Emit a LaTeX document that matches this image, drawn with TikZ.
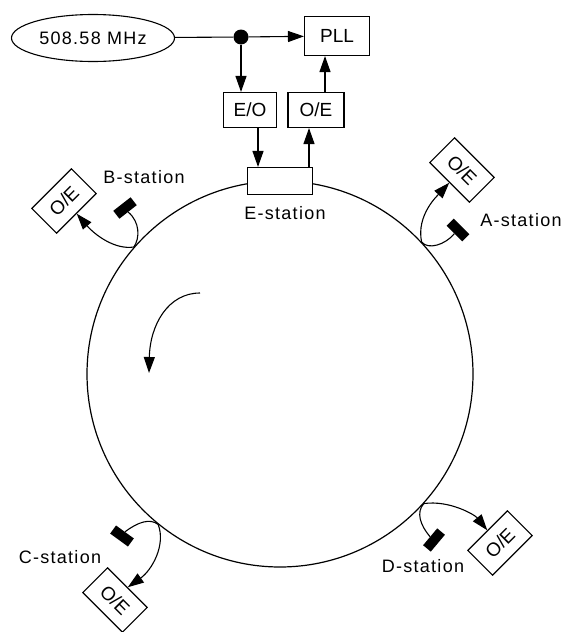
\documentclass[tikz,border=0pt]{standalone}
\usepackage{fontspec}
\newfontfamily\figfont[LetterSpace=7]{Liberation Sans}
\newfontfamily\boxfont{Liberation Sans}
\usetikzlibrary{arrows.meta,shapes.geometric}
\tikzset{
  unit/.style   = {draw, line width=1.1pt, fill=white, inner sep=0pt,
                   minimum width=56pt, minimum height=35pt,
                   font=\boxfont\fontsize{19}{22}\selectfont},
  pickup/.style = {fill=black, inner sep=0pt, minimum width=22pt, minimum height=10pt},
  tag/.style    = {font=\figfont\fontsize{18}{21}\selectfont, inner sep=0pt},
  sig/.style    = {line width=1.1pt, -{Triangle[length=16pt,width=11pt]}},
  link/.style   = {line width=1.1pt},
}

\begin{document}
\begin{tikzpicture}[x=1pt, y=1pt]
\useasboundingbox (0,0) rectangle (573,-632);

% timing chain
\node[tag, draw, ellipse, line width=1.1pt, minimum width=163pt, minimum height=47pt] (osc) at (93,-38) {508.58 MHz};
\node[unit, minimum width=65pt, minimum height=39pt] (pll) at (337,-36) {PLL};
\node[unit, minimum width=53pt] (eo) at (250,-110) {E/O};
\node[unit] (oe) at (316,-110) {O/E};
\node[circle, fill=black, inner sep=0pt, minimum size=15pt] (split) at (241,-37) {};

% ring and E-station
\node[draw, circle, line width=1.2pt, minimum size=386pt, inner sep=0pt] (ring) at (280,-374) {};
\node[unit, minimum width=65pt, minimum height=27pt] (estn) at (280,-181) {};
\node[tag] (lblE) at (285,-213) {E-station};

\draw[link] (osc) -- (split);
\draw[sig] (split) -- (pll);
\draw[sig] (split) -- (split |- eo.north);
\draw[sig] ([xshift=8pt]eo.south) -- ([xshift=8pt]eo.south |- estn.north);
\draw[sig] ([xshift=-7pt]oe.south |- estn.north) -- ([xshift=-7pt]oe.south);
\draw[sig] ([xshift=9pt]oe.north) -- ([xshift=9pt]oe.north |- pll.south);

% A-station
\coordinate (ctA) at (ring.43);
\node[pickup, rotate=-45] (pickA) at (458,-230) {};
\node[unit, rotate=-45] (oeA) at (462,-170) {O/E};
\node[tag] (lblA) at (521,-220) {A-station};
\draw[link] (ctA) .. controls (428,-250) and (445,-245) .. (pickA.south);
\draw[sig] (ctA) .. controls (416,-215) and (438,-195) .. (oeA.south);

% B-station
\coordinate (ctB) at (ring.139);
\node[pickup, rotate=38] (pickB) at (125,-208) {};
\node[unit, rotate=45] (oeB) at (64,-201) {O/E};
\node[tag] (lblB) at (144,-177) {B-station};
\draw[link] (ctB) .. controls (140,-238) and (140,-222) .. (pickB.south);
\draw[sig] (ctB) .. controls (115,-250) and (95,-235) .. (oeB.south);

% C-station
\coordinate (ctC) at (ring.231);
\node[pickup, rotate=-36] (pickC) at (122,-536) {};
\node[unit, rotate=-45] (oeC) at (115,-600) {O/E};
\node[tag] (lblC) at (60,-557) {C-station};
\draw[link] (ctC) .. controls (150,-518) and (138,-522) .. (pickC.north);
\draw[sig] (ctC) .. controls (166,-545) and (152,-570) .. (oeC.north);

% D-station
\coordinate (ctD) at (ring.318);
\node[pickup, rotate=50] (pickD) at (434,-540) {};
\node[unit, rotate=45] (oeD) at (500,-543) {O/E};
\node[tag] (lblD) at (423,-566) {D-station};
\draw[link] (ctD) .. controls (416,-512) and (420,-525) .. (pickD.north);
\draw[sig] (ctD) .. controls (450,-500) and (475,-515) .. (oeD.north);

% sense of rotation
\coordinate (spinS) at (200,-293);
\coordinate (spinE) at (149,-373);
\draw[sig] (spinS) .. controls (168,-293) and (150,-325) .. (spinE);
\end{tikzpicture}
\end{document}
